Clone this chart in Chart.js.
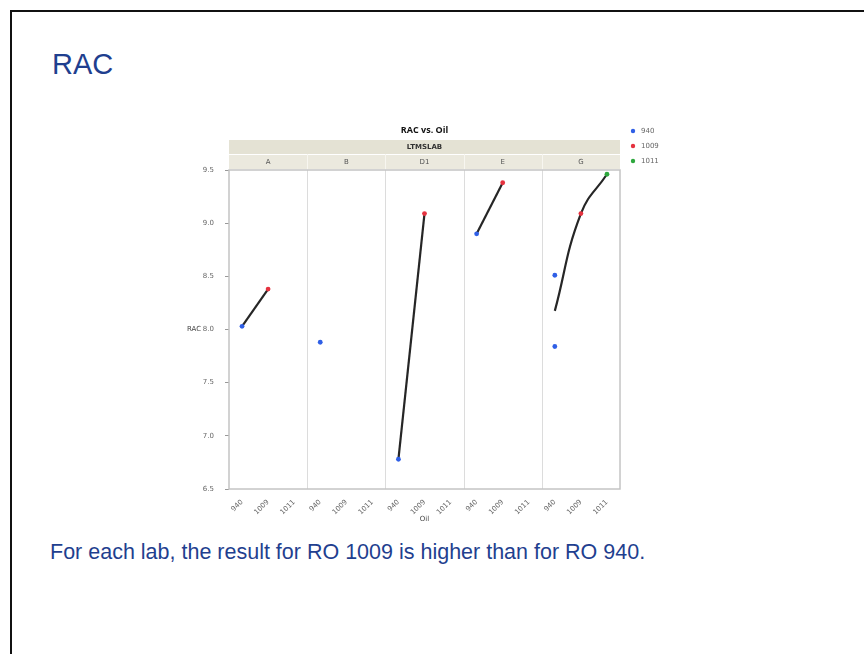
<!DOCTYPE html>
<html>
<head>
<meta charset="utf-8">
<script src="https://cdn.jsdelivr.net/npm/chart.js@4.4.1/dist/chart.umd.min.js"></script>
<style>
  html, body { margin: 0; padding: 0; background: #fff; }
  body { width: 864px; height: 654px; position: relative; overflow: hidden; font-family: "Liberation Sans", Arial, sans-serif; }
  #frame { position: absolute; left: 10px; top: 10px; right: -4px; bottom: -4px; border-left: 2px solid #111; border-top: 2px solid #111; }
  #slideTitle { position: absolute; left: 52px; top: 48px; font-size: 29px; color: #1f3f8f; }
  #note { position: absolute; left: 50px; top: 540px; font-size: 21.5px; color: #1f3f8f; white-space: nowrap; }
  #wrap { position: absolute; left: 150px; top: 110px; width: 560px; height: 425px; }
</style>
</head>
<body>
<div id="frame"></div>
<div id="slideTitle">RAC</div>
<div id="wrap"><canvas id="c" width="560" height="425"></canvas></div>
<div id="note">For each lab, the result for RO 1009 is higher than for RO 940.</div>
<script>
// Labs (panels) and oils (categories inside each panel)
const labs = ['A', 'B', 'D1', 'E', 'G'];
const oils = ['940', '1009', '1011'];

// RAC results per lab, one list per oil
const rac940  = [[8.03], [7.88], [6.78], [8.90], [8.51, 7.84]];
const rac1009 = [[8.38], [],     [9.09], [9.38], [9.09]];
const rac1011 = [[],     [],     [],     [],     [9.46]];

const yTicks = [6.5, 7.0, 7.5, 8.0, 8.5, 9.0, 9.5];

const oilColors = ['#2f5fe6', '#e5323f', '#2ea83e'];
const results = [rac940, rac1009, rac1011];

// One x category per lab/oil pair
const xLabels = [];
labs.forEach(l => oils.forEach(o => xLabels.push(l + ' ' + o)));

// Point datasets, one per oil
const pointSets = oils.map((oil, k) => {
  const data = [];
  labs.forEach((lab, i) => results[k][i].forEach(v => data.push({ x: lab + ' ' + oil, y: v })));
  return {
    type: 'line', label: oil, data, showLine: false,
    pointRadius: 2.4, pointHoverRadius: 2.4, pointBorderWidth: 0,
    pointBackgroundColor: oilColors[k], borderColor: oilColors[k], order: 1
  };
});

// Connecting line through the oil means in each lab
const mean = a => a.reduce((s, v) => s + v, 0) / a.length;
const lineSets = [];
labs.forEach((lab, i) => {
  const data = [];
  oils.forEach((oil, k) => { if (results[k][i].length) data.push({ x: lab + ' ' + oil, y: mean(results[k][i]) }); });
  if (data.length < 2) return;
  lineSets.push({
    type: 'line', label: 'fit ' + lab, data,
    borderColor: '#262626', borderWidth: 2.2, pointRadius: 0,
    tension: data.length > 2 ? 0.45 : 0, order: 2
  });
});

const tickFont = { family: '"DejaVu Sans", sans-serif', size: 7 };

// Panel frame, header strips, titles and legend
const facetPlugin = {
  id: 'facets',
  beforeDatasetsDraw(chart) {
    const { ctx, chartArea: a, scales: { x } } = chart;
    ctx.save();
    ctx.strokeStyle = '#dcdcdc';
    ctx.lineWidth = 1;
    for (let p = 1; p < labs.length; p++) {
      const px = Math.round((x.getPixelForValue(p * 3 - 1) + x.getPixelForValue(p * 3)) / 2) + 0.5;
      ctx.beginPath(); ctx.moveTo(px, a.top); ctx.lineTo(px, a.bottom); ctx.stroke();
    }
    ctx.restore();
  },
  afterDraw(chart) {
    const { ctx, chartArea: a, scales: { x } } = chart;
    ctx.save();
    // plot frame
    ctx.strokeStyle = '#c4c4c4';
    ctx.lineWidth = 1.5;
    ctx.strokeRect(a.left, a.top, a.right - a.left, a.bottom - a.top);

    // header strips
    const h1 = a.top - 30, h2 = a.top - 16;
    ctx.fillStyle = '#e4e2d4';
    ctx.fillRect(a.left, h1, a.right - a.left, 14);
    ctx.fillStyle = '#ebe9de';
    ctx.fillRect(a.left, h2, a.right - a.left, 15);
    ctx.strokeStyle = '#ffffff';
    ctx.lineWidth = 1;
    ctx.beginPath(); ctx.moveTo(a.left, h2 + 0.5); ctx.lineTo(a.right, h2 + 0.5); ctx.stroke();
    const edges = [a.left];
    for (let p = 1; p < labs.length; p++) edges.push((x.getPixelForValue(p * 3 - 1) + x.getPixelForValue(p * 3)) / 2);
    edges.push(a.right);
    ctx.strokeStyle = '#f7f6f0';
    for (let p = 1; p < labs.length; p++) {
      const px = Math.round(edges[p]) + 0.5;
      ctx.beginPath(); ctx.moveTo(px, h2); ctx.lineTo(px, a.top - 1); ctx.stroke();
    }
    ctx.fillStyle = '#333';
    ctx.textAlign = 'center';
    ctx.textBaseline = 'middle';
    ctx.font = 'bold 7px "DejaVu Sans", sans-serif';
    ctx.fillText('LTMSLAB', (a.left + a.right) / 2, h1 + 7);
    ctx.fillStyle = '#555';
    ctx.font = '7px "DejaVu Sans", sans-serif';
    labs.forEach((lab, i) => ctx.fillText(lab, (edges[i] + edges[i + 1]) / 2, h2 + 8));

    // chart title
    ctx.fillStyle = '#111';
    ctx.font = 'bold 9px "Open Sans", sans-serif';
    ctx.fillText('RAC vs. Oil', (a.left + a.right) / 2, a.top - 40);

    // axis titles
    ctx.fillStyle = '#444';
    ctx.font = '7px "DejaVu Sans", sans-serif';
    ctx.fillText('RAC', 44, chart.scales.y.getPixelForValue(8.0));
    ctx.fillText('Oil', (a.left + a.right) / 2, a.bottom + 30);

    // legend
    ctx.textAlign = 'left';
    oils.forEach((oil, k) => {
      const ly = 21 + k * 15;
      ctx.fillStyle = oilColors[k];
      ctx.beginPath(); ctx.arc(483, ly, 2.2, 0, Math.PI * 2); ctx.fill();
      ctx.fillStyle = '#666';
      ctx.fillText(oil, 491, ly);
    });
    ctx.restore();
  }
};

new Chart(document.getElementById('c'), {
  data: { labels: xLabels, datasets: [...pointSets, ...lineSets] },
  options: {
    responsive: false,
    animation: false,
    events: [],
    layout: { padding: { left: 0, top: 60, right: 90, bottom: 0 } },
    plugins: { legend: { display: false }, tooltip: { enabled: false } },
    scales: {
      x: {
        type: 'category',
        offset: true,
        grid: { display: false },
        border: { display: false },
        ticks: {
          font: tickFont, color: '#666', minRotation: 45, maxRotation: 45, padding: 1, autoSkip: false,
          callback: (v, i) => oils[i % oils.length]
        },
        afterFit: s => { s.height = 46; }
      },
      y: {
        type: 'linear',
        min: yTicks[0], max: yTicks[yTicks.length - 1],
        afterBuildTicks: s => { s.ticks = yTicks.map(v => ({ value: v })); },
        grid: { drawOnChartArea: false, drawTicks: true, tickLength: 4, color: '#999' },
        border: { display: false },
        ticks: { font: tickFont, color: '#666', padding: 11, callback: v => v.toFixed(1) },
        afterFit: s => { s.width = 79; }
      }
    }
  },
  plugins: [facetPlugin]
});
</script>
</body>
</html>
